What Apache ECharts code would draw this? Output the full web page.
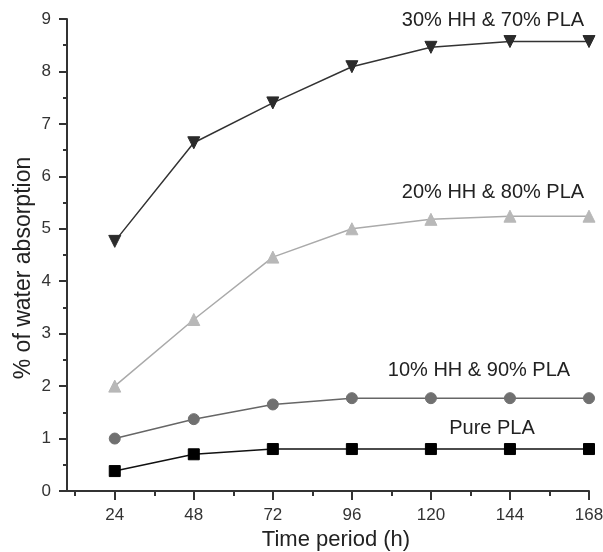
<!DOCTYPE html>
<html>
<head>
<meta charset="utf-8">
<script src="https://cdn.jsdelivr.net/npm/echarts@6/dist/echarts.min.js"></script>
<style>
  html, body { margin: 0; padding: 0; background: #fff; }
  #chart { width: 603px; height: 552px; }
</style>
</head>
<body>
<div id="chart"></div>
<script>
// time points (h)
var hours = [24, 48, 72, 96, 120, 144, 168];
var minorHours = [12, 36, 60, 84, 108, 132, 156];
// water absorption (%)
var purePLA = [0.38, 0.70, 0.80, 0.80, 0.80, 0.80, 0.80];
var hh10 = [1.00, 1.37, 1.65, 1.77, 1.77, 1.77, 1.77];
var hh20 = [2.00, 3.27, 4.46, 5.00, 5.18, 5.24, 5.24];
var hh30 = [4.76, 6.64, 7.40, 8.09, 8.46, 8.57, 8.57];

var font = "'Liberation Sans', Arial, sans-serif";

function pairs(vals) {
  return hours.map(function (h, i) { return [h, vals[i]]; });
}

function lineSeries(name, vals, color, markerColor, symbol, size, rotate) {
  return {
    name: name,
    type: "line",
    data: pairs(vals),
    symbol: symbol,
    symbolSize: size,
    symbolRotate: rotate || 0,
    showAllSymbol: true,
    lineStyle: { color: color, width: 1.5 },
    itemStyle: { color: markerColor, borderColor: markerColor, borderWidth: 1 },
    emphasis: { disabled: true },
    z: 3
  };
}

var chart = echarts.init(document.getElementById("chart"));
var option = {
  backgroundColor: "#fff",
  animation: false,
  grid: { left: 67, right: 14, top: 19, bottom: 61, outerBoundsMode: "none", containLabel: false },
  xAxis: [
    {
      type: "value",
      min: 9.5,
      max: 168,
      name: "Time period (h)",
      nameLocation: "middle",
      nameGap: 30,
      nameTextStyle: { fontSize: 22, color: "#222", fontFamily: font, padding: [0, 0, 0, 16] },
      axisLine: { show: true, lineStyle: { color: "#333", width: 2 } },
      axisTick: { show: true, length: 9, lineStyle: { color: "#333", width: 2 }, customValues: hours },
      axisLabel: { color: "#333", fontSize: 17, fontFamily: font, margin: 16, customValues: hours },
      splitLine: { show: false }
    },
    {
      // minor ticks between the labelled hours
      type: "value",
      position: "bottom",
      min: 9.5,
      max: 168,
      axisLine: { show: false },
      axisTick: { show: true, length: 5, lineStyle: { color: "#333", width: 2 }, customValues: minorHours },
      axisLabel: { show: false },
      splitLine: { show: false }
    }
  ],
  yAxis: {
    type: "value",
    min: 0,
    max: 9,
    interval: 1,
    name: "% of water absorption",
    nameLocation: "middle",
    nameGap: 32,
    nameMoveOverlap: false,
    nameTextStyle: { fontSize: 23, color: "#222", fontFamily: font, padding: [0, 26, 0, 0] },
    axisLine: { show: true, lineStyle: { color: "#333", width: 2 } },
    axisTick: { show: true, length: 8, lineStyle: { color: "#333", width: 2 } },
    minorTick: { show: true, splitNumber: 2, length: 4, lineStyle: { color: "#333", width: 2 } },
    axisLabel: { color: "#333", fontSize: 17, fontFamily: font, margin: 16 },
    splitLine: { show: false },
    minorSplitLine: { show: false }
  },
  series: [
    lineSeries("Pure PLA", purePLA, "#111", "#000", "rect", 11),
    lineSeries("10% HH & 90% PLA", hh10, "#666", "#707070", "circle", 11),
    lineSeries("20% HH & 80% PLA", hh20, "#aaa", "#b8b8b8", "triangle", 12),
    lineSeries("30% HH & 70% PLA", hh30, "#333", "#2b2b2b", "triangle", 12, 180)
  ],
  graphic: [
    { type: "text", x: 493, y: 20, style: { text: "30% HH & 70% PLA", fill: "#222", font: "20px " + font, textAlign: "center", textVerticalAlign: "middle" } },
    { type: "text", x: 493, y: 192, style: { text: "20% HH & 80% PLA", fill: "#222", font: "20px " + font, textAlign: "center", textVerticalAlign: "middle" } },
    { type: "text", x: 479, y: 370, style: { text: "10% HH & 90% PLA", fill: "#222", font: "20px " + font, textAlign: "center", textVerticalAlign: "middle" } },
    { type: "text", x: 492, y: 428, style: { text: "Pure PLA", fill: "#222", font: "20px " + font, textAlign: "center", textVerticalAlign: "middle" } }
  ]
};
chart.setOption(option);
</script>
</body>
</html>
